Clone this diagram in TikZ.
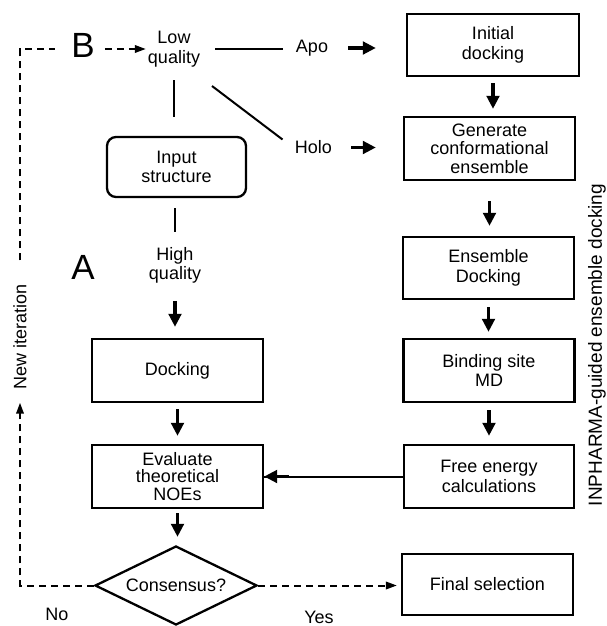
\documentclass[tikz,border=0pt]{standalone}
\usepackage{fontspec}
\setmainfont{Liberation Sans}
\usetikzlibrary{arrows.meta,shapes.geometric,calc}
\begin{document}
\begin{tikzpicture}[x=1pt,y=-1pt,
  font=\fontsize{18}{19.5}\selectfont,
  box/.style={draw, line width=2.3pt, align=center, inner sep=0pt},
  lbl/.style={align=center, inner sep=2pt},
  big/.style={font=\fontsize{35}{35}\selectfont, inner sep=2pt},
  fat/.style={line width=3.8pt, -{Triangle[length=13pt,width=12.5pt]}},
  thinln/.style={line width=2pt},
  dashline/.style={line width=2pt, dash pattern=on 7pt off 5pt},
  dasharr/.style={dashline, -{Triangle[length=11pt,width=7.5pt]}},
]
\useasboundingbox (0,0) rectangle (606,626);

% boxes right column
\node[box, minimum width=172pt, minimum height=62pt] (init) at (493,45) {Initial\\docking};
\node[box, minimum width=171pt, minimum height=63pt, font=\fontsize{18}{18.5}\selectfont] (gen) at (489.5,148.5) {Generate\\conformational\\ensemble};
\node[box, minimum width=171pt, minimum height=62pt] (ens) at (488.5,268) {Ensemble\\Docking};
\node[box, minimum width=171pt, minimum height=63pt] (bind) at (489,370.5) {Binding site\\MD};
\node[box, minimum width=170pt, minimum height=63pt] (free) at (489,476.5) {Free energy\\calculations};
\node[box, minimum width=171pt, minimum height=61pt] (final) at (487.5,584.5) {Final selection};

% left column
\node[box, rounded corners=9pt, minimum width=139pt, minimum height=60pt] (inp) at (176.5,167) {Input\\structure};
\node[box, minimum width=171pt, minimum height=63pt] (dock) at (177.5,370.5) {Docking};
\node[box, minimum width=171pt, minimum height=63pt, font=\fontsize{18}{17.7}\selectfont] (eval) at (177.5,476.5) {Evaluate\\theoretical\\NOEs};
\node[draw, diamond, aspect=2, line width=2.3pt, minimum width=162pt, minimum height=79pt, inner sep=0pt] (cons) at (176,585.5) {Consensus?};

% labels
\node[lbl] (lq) at (174,49) {Low\\quality};
\node[lbl] (hq) at (175,265.5) {High\\quality};
\node[lbl] (apo) at (312,48) {Apo};
\node[lbl] (holo) at (313.5,147.5) {Holo};
\node[big] (B) at (83,45.5) {B};
\node[big] (A) at (83,267.5) {A};
\node[lbl] (no) at (57,614) {No};
\node[lbl] (yes) at (319,617) {Yes};
\node[lbl, rotate=90] (ni) at (20,337) {New iteration};
\node[lbl, rotate=90, font=\fontsize{19}{19}\selectfont] (inph) at (597,345) {INPHARMA-guided ensemble docking};

% thin connectors
\draw[thinln, shorten <=13pt, shorten >=11pt] (lq.east) -- (lq.east -| apo.west);
\draw[thinln, shorten <=11pt, shorten >=19pt] (lq.south) -- (lq.south |- inp.north);
\draw[thinln] ($(lq.center)+(38,37)$) -- ($(holo.center)+(-31,-8)$);
\draw[thinln, shorten <=10pt, shorten >=13pt] (hq.north |- inp.south) -- (hq.north);

% fat arrows
\draw[fat, shorten <=18pt, shorten >=30pt] (apo.east) -- (apo.east -| init.west);
\draw[fat, shorten <=17pt, shorten >=27pt] (holo.east) -- (holo.east -| gen.west);
\draw[fat, shorten <=6pt, shorten >=7pt] (init.south) -- (init.south |- gen.north);
\draw[fat, shorten <=20pt, shorten >=10pt] (gen.south) -- (gen.south |- ens.north);
\draw[fat, shorten <=7pt, shorten >=6pt] (ens.south) -- (ens.south |- bind.north);
\draw[fat, shorten <=7pt, shorten >=8pt] (bind.south) -- (bind.south |- free.north);
\draw[fat, shorten <=15pt, shorten >=11pt] (hq.south) -- (hq.south |- dock.north);
\draw[fat, shorten <=6pt, shorten >=8pt] (dock.south) -- (dock.south |- eval.north);
\draw[fat, shorten <=4pt, shorten >=8pt] (eval.south) -- (eval.south |- cons.north);
\draw[thinln] (free.west) -- (eval.east);
\draw[fat] ($(eval.east)+(25,0)$) -- (eval.east);

% dashed connectors
\draw[dasharr, shorten >=11pt] (cons.west) -| (ni.west);
\draw[dashline, shorten <=22pt, shorten >=14pt] (ni.east) |- ([yshift=-4pt]B.west);
\draw[dasharr, shorten <=8pt] (lq.west -| B.east) -- (lq.west);
\draw[dasharr, shorten >=4pt] (cons.east) -- (cons.east -| final.west);
\end{tikzpicture}
\end{document}
